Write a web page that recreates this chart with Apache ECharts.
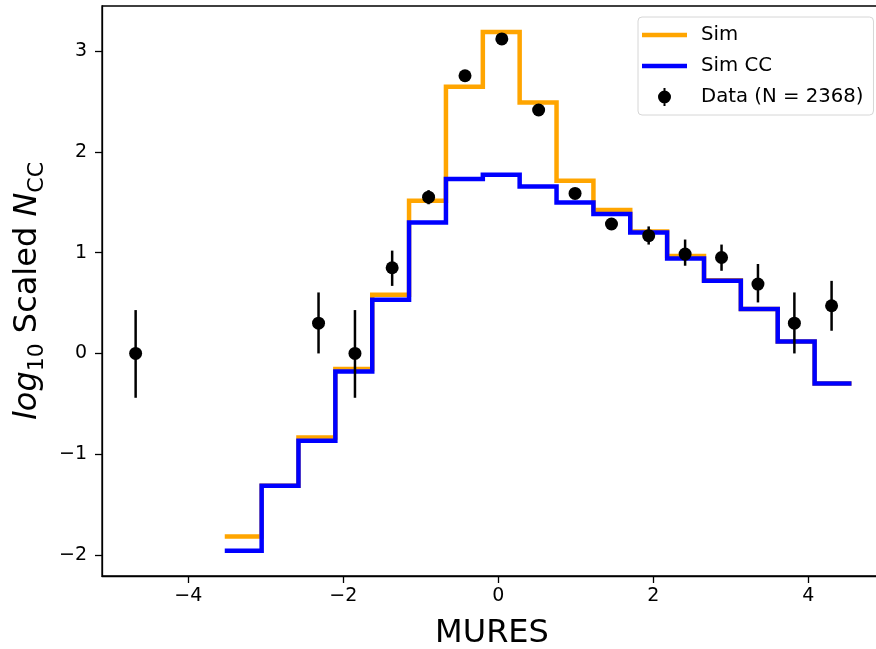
<!DOCTYPE html>
<html>
<head>
<meta charset="utf-8">
<script src="https://cdn.jsdelivr.net/npm/echarts@6/dist/echarts.min.js"></script>
<style>
html,body{margin:0;padding:0;background:#fff;}
#chart{width:876px;height:649px;}
</style>
</head>
<body>
<div id="chart"></div>
<script>
// Histogram bin edges (MURES)
const binEdges = [-3.530, -3.054, -2.579, -2.103, -1.627, -1.152, -0.676, -0.200, 0.275, 0.751, 1.227, 1.702, 2.178, 2.654, 3.129, 3.605, 4.081, 4.557];
// log10 scaled counts per bin
const simValues   = [-1.815, -1.312, -0.833, -0.155, 0.582, 1.515, 2.646, 3.190, 2.490, 1.713, 1.423, 1.210, 0.966, 0.725, 0.440, 0.119, -0.298];
const simCCValues = [-1.957, -1.312, -0.866, -0.180, 0.533, 1.300, 1.730, 1.773, 1.657, 1.498, 1.383, 1.200, 0.942, 0.721, 0.440, 0.119, -0.298];
// Data points with error bar ends
const dataX    = [-4.68, -2.32, -1.85, -1.37, -0.90, -0.43, 0.045, 0.52, 0.99, 1.46, 1.94, 2.41, 2.88, 3.35, 3.82, 4.30];
const dataY    = [0.000, 0.300, 0.000, 0.850, 1.550, 2.755, 3.120, 2.415, 1.587, 1.284, 1.168, 0.986, 0.952, 0.688, 0.300, 0.473];
const dataLow  = [-0.440, 0.000, -0.440, 0.670, 1.480, 2.720, 3.100, 2.380, 1.550, 1.240, 1.080, 0.870, 0.820, 0.506, 0.000, 0.225];
const dataHigh = [0.430, 0.605, 0.430, 1.020, 1.620, 2.790, 3.140, 2.450, 1.620, 1.330, 1.260, 1.130, 1.080, 0.887, 0.605, 0.720];
const xTicks = [-4, -2, 0, 2, 4];
const yTicks = [-2, -1, 0, 1, 2, 3];

const FONT = 'DejaVu Sans';
function stepData(vals) {
  const out = vals.map((v, i) => [binEdges[i], v]);
  out.push([binEdges[binEdges.length - 1], vals[vals.length - 1]]);
  return out;
}
function fmt(v) { return v < 0 ? '\u2212' + Math.abs(v) : String(v); }

const chart = echarts.init(document.getElementById('chart'), null, {renderer: 'canvas'});
const lineIcon = 'path://M0,0 L45,0 L45,4.5 L0,4.5 Z';
const dataIcon = 'path://M16,9 A6.5,6.5 0 1,1 29,9 A6.5,6.5 0 1,1 16,9 Z M21.5,0 L23.5,0 L23.5,18 L21.5,18 Z';

chart.setOption({
  animation: false,
  backgroundColor: '#fff',
  textStyle: {fontFamily: FONT},
  grid: {left: 102, top: 6, width: 780, height: 570, show: true, borderColor: '#000', borderWidth: 1.3,
         backgroundColor: 'transparent', containLabel: false, outerBoundsMode: 'none'},
  legend: {
    left: 638, top: 17, orient: 'vertical',
    itemWidth: 45, itemHeight: 18, itemGap: 11,
    padding: [8, 10, 8, 4],
    backgroundColor: '#fff', borderColor: '#d6d6d6', borderWidth: 1, borderRadius: 4,
    textStyle: {fontFamily: FONT, fontSize: 19.7, color: '#000', padding: [0, 0, 0, 9]},
    data: [
      {name: 'Sim', icon: lineIcon},
      {name: 'Sim CC', icon: lineIcon},
      {name: 'Data (N = 2368)', icon: dataIcon}
    ]
  },
  xAxis: {
    type: 'value', min: -5.114, max: -5.114 + 780 / 77.5,
    name: 'MURES', nameLocation: 'middle', nameGap: 42,
    nameTextStyle: {fontFamily: FONT, fontSize: 32, color: '#000'},
    axisLine: {show: true, onZero: false, lineStyle: {color: '#000', width: 1.3}},
    axisTick: {show: true, length: 7, lineStyle: {color: '#000', width: 1.3}, customValues: xTicks},
    axisLabel: {show: true, margin: 11, fontFamily: FONT, fontSize: 19, color: '#000', customValues: xTicks, formatter: fmt},
    splitLine: {show: false}
  },
  yAxis: {
    type: 'value', min: -2.208, max: -2.208 + 570 / 100.8,
    name: '{it|log}{sub|10} Scaled {it|N}{sub|CC}', nameLocation: 'middle', nameRotate: 90, nameGap: 48,
    nameTextStyle: {
      fontFamily: FONT, fontSize: 32, color: '#000',
      rich: {
        it: {fontFamily: FONT, fontStyle: 'italic', fontSize: 32, color: '#000', lineHeight: 42},
        sub: {fontFamily: FONT, fontSize: 22, color: '#000', verticalAlign: 'top', padding: [19, 0, 0, 0], lineHeight: 22}
      }
    },
    axisLine: {show: true, onZero: false, lineStyle: {color: '#000', width: 1.3}},
    axisTick: {show: true, length: 7, lineStyle: {color: '#000', width: 1.3}, customValues: yTicks},
    axisLabel: {show: true, margin: 15, fontFamily: FONT, fontSize: 19, color: '#000', customValues: yTicks, formatter: fmt},
    splitLine: {show: false}
  },
  series: [
    {
      name: 'Sim', type: 'line', step: 'end', data: stepData(simValues),
      showSymbol: false, symbol: 'none', color: '#FFA500',
      lineStyle: {color: '#FFA500', width: 4.5, cap: 'butt', join: 'miter'}, z: 2
    },
    {
      name: 'Sim CC', type: 'line', step: 'end', data: stepData(simCCValues),
      showSymbol: false, symbol: 'none', color: '#0000FF',
      lineStyle: {color: '#0000FF', width: 4.5, cap: 'butt', join: 'miter'}, z: 3
    },
    {
      name: 'Data (N = 2368)', type: 'custom', z: 4, color: '#000',
      data: dataX.map((x, i) => [x, dataLow[i], dataHigh[i]]),
      encode: {x: 0, y: [1, 2]},
      renderItem: function (params, api) {
        const p1 = api.coord([api.value(0), api.value(1)]);
        const p2 = api.coord([api.value(0), api.value(2)]);
        return {type: 'line', shape: {x1: p1[0], y1: p1[1], x2: p2[0], y2: p2[1]}, style: {stroke: '#000', lineWidth: 2.5}};
      }
    },
    {
      name: 'Data (N = 2368)', type: 'scatter', z: 5, color: '#000',
      symbol: 'circle', symbolSize: 13,
      data: dataX.map((x, i) => [x, dataY[i]]),
      itemStyle: {color: '#000', opacity: 1}
    }
  ]
});
</script>
</body>
</html>
